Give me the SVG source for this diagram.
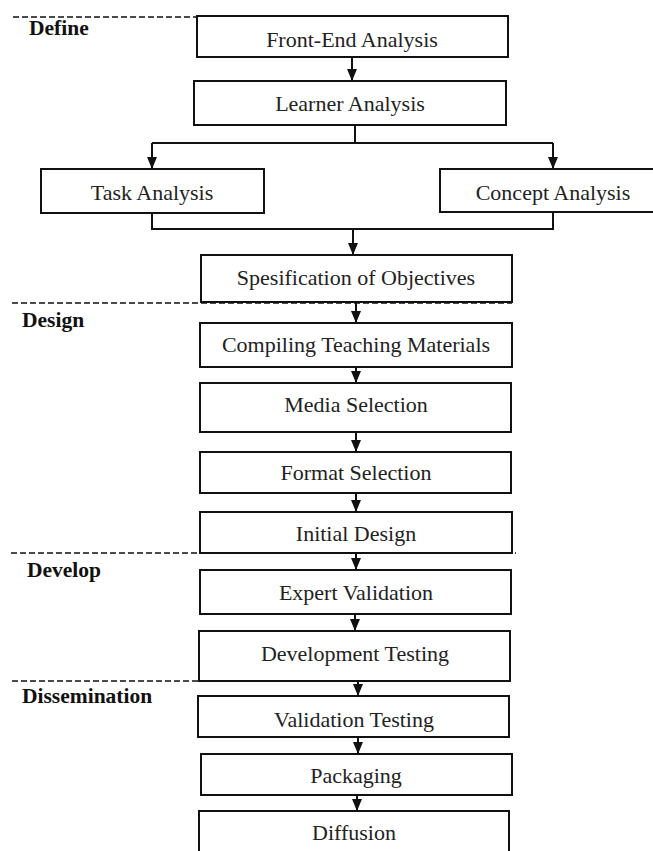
<svg xmlns="http://www.w3.org/2000/svg" width="653" height="851" viewBox="0 0 653 851">
<style>
.box{fill:#fff;stroke:#111;stroke-width:2}
.t{font-family:"Liberation Serif","Times New Roman",serif;font-size:22px;fill:#222;text-anchor:middle}
.ph{font-family:"Liberation Serif","Times New Roman",serif;font-size:21.5px;font-weight:bold;fill:#111}
.c{fill:none;stroke:#111;stroke-width:2}
.dash{fill:none;stroke:#111;stroke-width:1.5;stroke-dasharray:6 3}
</style>
<defs>
<marker id="ah" markerUnits="userSpaceOnUse" markerWidth="12" markerHeight="12" viewBox="0 0 12 10" refX="12" refY="5" orient="auto">
<path d="M0,0 L12,5 L0,10 z" fill="#111"/>
</marker>
</defs>
<rect width="653" height="851" fill="#fff"/>
<g id="phases">
<path class="dash" d="M13,17 H197"/>
<path class="dash" d="M12,303 H512"/>
<path class="dash" d="M11,553 H516"/>
<path class="dash" d="M12,681 H510"/>
<text class="ph" x="29" y="35">Define</text>
<text class="ph" x="22" y="327">Design</text>
<text class="ph" x="27" y="577">Develop</text>
<text class="ph" x="22" y="703">Dissemination</text>
</g>
<g id="connectors">
<path class="c" d="M352,57 V81" marker-end="url(#ah)"/>
<path class="c" d="M355,125 V143"/>
<path class="c" d="M152,143 H553"/>
<path class="c" d="M152,143 V169" marker-end="url(#ah)"/>
<path class="c" d="M553,143 V169" marker-end="url(#ah)"/>
<path class="c" d="M152,213 V229 H553 V212"/>
<path class="c" d="M353,229 V255" marker-end="url(#ah)"/>
<path class="c" d="M356,302 V323" marker-end="url(#ah)"/>
<path class="c" d="M356,367 V383" marker-end="url(#ah)"/>
<path class="c" d="M356,432 V452" marker-end="url(#ah)"/>
<path class="c" d="M356,493 V512" marker-end="url(#ah)"/>
<path class="c" d="M356,553 V570" marker-end="url(#ah)"/>
<path class="c" d="M355,614 V631" marker-end="url(#ah)"/>
<path class="c" d="M358,681 V696" marker-end="url(#ah)"/>
<path class="c" d="M358,737 V754" marker-end="url(#ah)"/>
<path class="c" d="M357,795 V811" marker-end="url(#ah)"/>
</g>
<g id="front-end"><rect class="box" x="197" y="16" width="311" height="41"/><text class="t" x="352" y="47">Front-End Analysis</text></g>
<g id="learner"><rect class="box" x="194" y="81" width="312" height="44"/><text class="t" x="350" y="111">Learner Analysis</text></g>
<g id="task"><rect class="box" x="41" y="169" width="223" height="44"/><text class="t" x="152" y="200">Task Analysis</text></g>
<g id="concept"><rect class="box" x="440" y="169" width="228" height="43"/><text class="t" x="553" y="200">Concept Analysis</text></g>
<g id="spesification"><rect class="box" x="201" y="255" width="311" height="47"/><text class="t" x="356" y="285">Spesification of Objectives</text></g>
<g id="compiling"><rect class="box" x="200" y="323" width="312" height="44"/><text class="t" x="356" y="352">Compiling Teaching Materials</text></g>
<g id="media"><rect class="box" x="200" y="383" width="311" height="49"/><text class="t" x="356" y="412">Media Selection</text></g>
<g id="format"><rect class="box" x="200" y="452" width="311" height="41"/><text class="t" x="356" y="480">Format Selection</text></g>
<g id="initial"><rect class="box" x="200" y="512" width="312" height="41"/><text class="t" x="356" y="541">Initial Design</text></g>
<g id="expert"><rect class="box" x="200" y="570" width="311" height="44"/><text class="t" x="356" y="600">Expert Validation</text></g>
<g id="development"><rect class="box" x="199" y="631" width="311" height="50"/><text class="t" x="355" y="661">Development Testing</text></g>
<g id="validation"><rect class="box" x="198" y="696" width="311" height="41"/><text class="t" x="354" y="727">Validation Testing</text></g>
<g id="packaging"><rect class="box" x="201" y="754" width="311" height="41"/><text class="t" x="356" y="783">Packaging</text></g>
<g id="diffusion"><rect class="box" x="199" y="811" width="310" height="50"/><text class="t" x="354" y="840">Diffusion</text></g>
</svg>
